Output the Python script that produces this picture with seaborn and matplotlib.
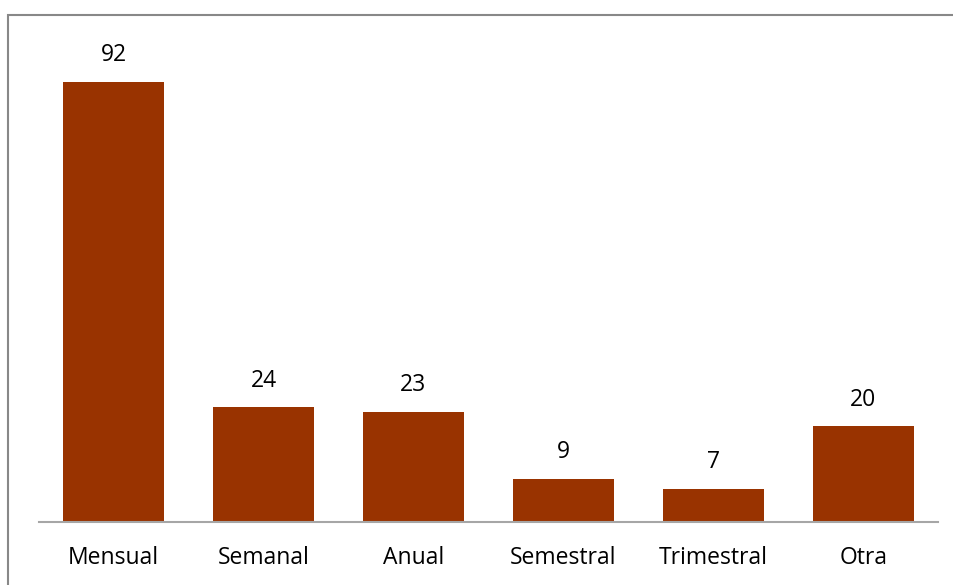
import matplotlib
matplotlib.use("Agg")
import matplotlib.pyplot as plt
import seaborn as sns
import pandas as pd
from matplotlib.patches import Rectangle

categories = ["Mensual", "Semanal", "Anual", "Semestral", "Trimestral", "Otra"]
values = [92, 24, 23, 9, 7, 20]

sns.set_theme(style="white")
plt.rcParams['font.family'] = ['Open Sans', 'DejaVu Sans']

df = pd.DataFrame({"cat": categories, "val": values})

fig = plt.figure(figsize=(9.54, 5.85), dpi=100)
ax = fig.add_axes([38.5/954, 63/585, 900/954, 478.3/585])
sns.barplot(data=df, x="cat", y="val", color="#993300", saturation=1,
            width=0.667, linewidth=0, ax=ax)
ax.set_ylim(0, 100)
ax.set_xlim(-0.5, 5.5)
ax.set_xlabel("")
ax.set_ylabel("")
ax.set_yticks([])
for s in ["top", "right", "left"]:
    ax.spines[s].set_visible(False)
ax.spines["bottom"].set_color("#A6A6A6")
ax.spines["bottom"].set_linewidth(1.5)
ax.tick_params(axis="x", length=0, pad=17.5, labelsize=16.5, colors="black")
for c in ax.containers:
    ax.bar_label(c, padding=10.5, fontsize=16.5, color="black")

fig.patches.append(Rectangle((8.5/954, -0.1), 1.2, (585-14.5)/585 + 0.1,
                             transform=fig.transFigure, fill=False,
                             edgecolor="#888888", linewidth=1.5, clip_on=False))
fig.savefig("out.png", dpi=100, facecolor="white")
